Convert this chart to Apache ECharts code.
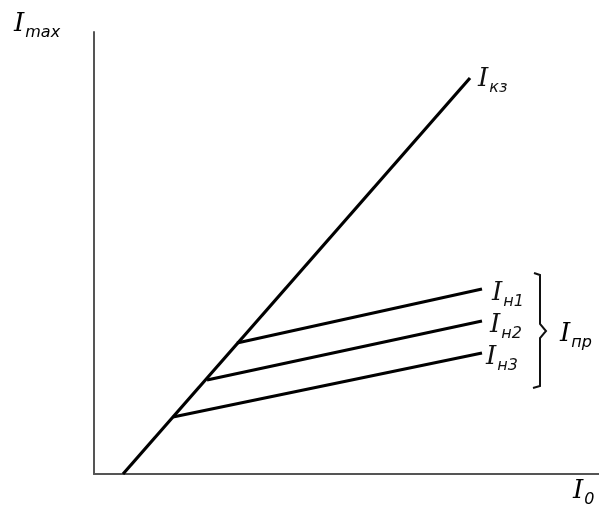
<!DOCTYPE html>
<html>
<head>
<meta charset="utf-8">
<script src="https://cdn.jsdelivr.net/npm/echarts@6/dist/echarts.min.js"></script>
<style>
html, body {margin: 0; padding: 0; background: #fff;}
#chart {width: 599px; height: 507px;}
</style>
</head>
<body>
<div id="chart"></div>
<script>
// values (arbitrary units, origin at axes corner)
const subs = ['кз', 'н1', 'н2', 'н3'];
const xStart = [29, 143, 113, 79];
const yStart = [0, 131, 94, 57];
const xEnd = [376, 388, 388, 388];
const yEnd = [396, 185, 153, 121];
const labelOffsets = [[0, 3], [2, 6], [0, 6], [-4, 6]];

const xMax = 505, yMax = 442;

function mkLabel(sub) {
    return '{i|I}{s|' + sub + '}';
}

const richI = {
    i: {fontFamily: 'DejaVu Serif', fontStyle: 'italic', fontSize: 26, lineHeight: 30, verticalAlign: 'top', color: '#111'},
    s: {fontFamily: 'DejaVu Sans', fontStyle: 'italic', fontSize: 16, lineHeight: 16, padding: [12, 0, 0, 1], verticalAlign: 'bottom', color: '#111'}
};

let series = [];
let i = 0;
while (subs[i]) {
    series.push({
        type: 'line',
        name: subs[i],
        data: [[xStart[i], yStart[i]], [xEnd[i], yEnd[i]]],
        symbol: 'none',
        lineStyle: {color: '#000', width: 3.2},
        endLabel: {
            show: true,
            formatter: mkLabel(subs[i]),
            offset: labelOffsets[i],
            rich: richI
        },
        silent: true
    });
    ++i;
}

const chart = echarts.init(document.getElementById('chart'));
chart.setOption({
    animation: false,
    grid: {left: 94, right: 0, top: 32, bottom: 33},
    xAxis: {
        type: 'value', min: 0, max: xMax,
        axisLine: {lineStyle: {color: '#555', width: 2}},
        axisTick: {show: false}, axisLabel: {show: false}, splitLine: {show: false}
    },
    yAxis: {
        type: 'value', min: 0, max: yMax,
        axisLine: {show: true, lineStyle: {color: '#555', width: 2}},
        axisTick: {show: false}, axisLabel: {show: false}, splitLine: {show: false}
    },
    series: series,
    graphic: [
        {type: 'text', left: 14, top: 11, style: {text: mkLabel('max'), rich: richI}},
        {type: 'text', left: 573, top: 478, style: {text: mkLabel('0'), rich: richI}},
        {type: 'text', left: 560, top: 321, style: {text: mkLabel('пр'), rich: richI}},
        {
            type: 'polyline',
            shape: {points: [[534, 273], [540, 275], [540, 324], [546, 331], [540, 338], [540, 386], [533, 388]]},
            style: {stroke: '#111', lineWidth: 2, fill: null}
        }
    ]
});
</script>
</body>
</html>
